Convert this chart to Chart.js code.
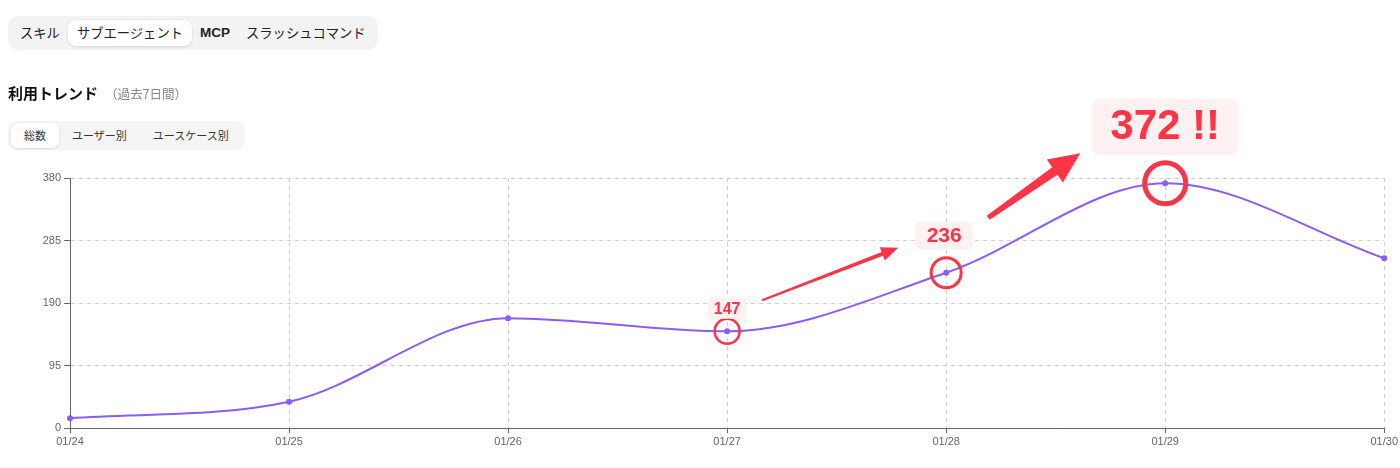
<!DOCTYPE html>
<html lang="ja">
<head>
<meta charset="utf-8">
<script src="https://cdn.jsdelivr.net/npm/chart.js@4/dist/chart.umd.min.js"></script>
<style>
  html, body { margin: 0; padding: 0; background: #fff; }
  body { width: 1400px; height: 468px; position: relative; overflow: hidden;
         font-family: "Noto Sans CJK JP", "Noto Sans", sans-serif; color: #222; }
  #wrap { position: absolute; left: 0; top: 0; width: 1400px; height: 468px; }
  .tabs { position: absolute; left: 8px; top: 16px; height: 34px; background: #f3f3f4;
          border-radius: 10px; display: flex; align-items: center; padding: 0 4px; box-sizing: border-box; z-index: 2; }
  .tab { height: 26px; line-height: 26px; padding: 0 8px; font-size: 13.3px; color: #222; border-radius: 8px; white-space: nowrap; }
  .tab.active { background: #fff; box-shadow: 0 1px 3px rgba(0,0,0,0.12); padding: 0 9px; }
  .tab.en { font-family: "Liberation Sans", Arial, sans-serif; font-weight: 600; font-size: 13.5px; }
  .title { position: absolute; left: 8px; top: 82px; font-size: 15px; font-weight: 700; color: #111; z-index: 2; white-space: nowrap; }
  .title span { font-size: 12.5px; font-weight: 400; color: #888; margin-left: 7px; }
  .subtabs { position: absolute; left: 8px; top: 121px; height: 29px; background: #f5f5f6;
             border-radius: 9px; display: flex; align-items: center; padding: 0 3px; box-sizing: border-box; z-index: 2; }
  .subtab { height: 25px; line-height: 25px; padding: 0 13px; font-size: 11px; color: #333; border-radius: 7px; white-space: nowrap; }
  .subtab.active { background: #fff; box-shadow: 0 1px 3px rgba(0,0,0,0.12); }
  canvas { position: absolute; left: 0; top: 0; z-index: 1; }
</style>
</head>
<body>
<div class="tabs">
  <div class="tab">スキル</div>
  <div class="tab active">サブエージェント</div>
  <div class="tab en">MCP</div>
  <div class="tab">スラッシュコマンド</div>
</div>
<div class="title">利用トレンド<span>（過去7日間）</span></div>
<div class="subtabs">
  <div class="subtab active">総数</div>
  <div class="subtab">ユーザー別</div>
  <div class="subtab">ユースケース別</div>
</div>
<div id="wrap"><canvas id="c" width="1400" height="468"></canvas></div>
<script>
const categories = ['01/24', '01/25', '01/26', '01/27', '01/28', '01/29', '01/30'];
const usageValues = [15, 40, 167, 147, 236, 372, 258];
const yTickValues = [0, 95, 190, 285, 380];
const highlightIndexes = [3, 4, 5];
const highlightTexts = ['147', '236', '372 !!'];

const RED = '#fc3446';
const PURPLE = '#8b5cf6';

function roundRect(ctx, x, y, w, h, r) {
  ctx.beginPath();
  ctx.moveTo(x + r, y);
  ctx.lineTo(x + w - r, y);
  ctx.quadraticCurveTo(x + w, y, x + w, y + r);
  ctx.lineTo(x + w, y + h - r);
  ctx.quadraticCurveTo(x + w, y + h, x + w - r, y + h);
  ctx.lineTo(x + r, y + h);
  ctx.quadraticCurveTo(x, y + h, x, y + h - r);
  ctx.lineTo(x, y + r);
  ctx.quadraticCurveTo(x, y, x + r, y);
  ctx.closePath();
}

function arrow(ctx, x1, y1, x2, y2, w1, w2, headLen, headW) {
  const dx = x2 - x1, dy = y2 - y1;
  const len = Math.hypot(dx, dy);
  const ux = dx / len, uy = dy / len;
  const nx = -uy, ny = ux;
  const bx = x2 - ux * headLen, by = y2 - uy * headLen;
  ctx.beginPath();
  ctx.moveTo(x1 + nx * w1 / 2, y1 + ny * w1 / 2);
  ctx.lineTo(bx + nx * w2 / 2, by + ny * w2 / 2);
  ctx.lineTo(bx + nx * headW / 2, by + ny * headW / 2);
  ctx.lineTo(x2, y2);
  ctx.lineTo(bx - nx * headW / 2, by - ny * headW / 2);
  ctx.lineTo(bx - nx * w2 / 2, by - ny * w2 / 2);
  ctx.lineTo(x1 - nx * w1 / 2, y1 - ny * w1 / 2);
  ctx.closePath();
  ctx.fill();
}

const annotatePlugin = {
  id: 'annotate',
  afterDatasetsDraw(chart) {
    const ctx = chart.ctx;
    const meta = chart.getDatasetMeta(0);
    const pts = highlightIndexes.map(i => meta.data[i]);
    const styles = [
      { r: 12.5, lw: 2.5, font: 16, bw: 37, bh: 21, dx: 0, dy: -23 },
      { r: 15, lw: 3, font: 21, bw: 56, bh: 26, dx: -2, dy: -38 },
      { r: 20.5, lw: 5, font: 42, bw: 145, bh: 54, dx: 0, dy: -57 }
    ];
    ctx.save();
    pts.forEach((p, k) => {
      const s = styles[k];
      ctx.strokeStyle = RED;
      ctx.lineWidth = s.lw;
      ctx.beginPath();
      ctx.arc(p.x, p.y, s.r, 0, Math.PI * 2);
      ctx.stroke();
      const cx = p.x + s.dx, cy = p.y + s.dy;
      ctx.save();
      ctx.shadowColor = 'rgba(0,0,0,0.08)';
      ctx.shadowBlur = 3;
      ctx.shadowOffsetY = 1;
      ctx.fillStyle = '#fff0f1';
      roundRect(ctx, cx - s.bw / 2, cy - s.bh / 2, s.bw, s.bh, k === 2 ? 7 : 4);
      ctx.fill();
      ctx.restore();
      ctx.fillStyle = RED;
      ctx.font = `bold ${s.font}px "Liberation Sans", Arial, sans-serif`;
      ctx.textAlign = 'center';
      ctx.textBaseline = 'middle';
      ctx.fillText(highlightTexts[k], cx, cy + 1);
    });
    ctx.fillStyle = RED;
    const a = pts[0], b = pts[1], c = pts[2];
    arrow(ctx, a.x + 35, a.y - 31, b.x - 48, b.y - 25, 2, 4, 17, 14);
    arrow(ctx, b.x + 42, b.y - 55, c.x - 85, c.y - 30, 5, 9, 31, 28);
    ctx.restore();
  }
};

new Chart(document.getElementById('c'), {
  type: 'line',
  data: {
    labels: categories,
    datasets: [{
      data: usageValues,
      borderColor: PURPLE,
      backgroundColor: PURPLE,
      borderWidth: 2,
      pointRadius: 3,
      pointBorderWidth: 0,
      pointBackgroundColor: PURPLE,
      cubicInterpolationMode: 'monotone',
      tension: 0.4,
      fill: false
    }]
  },
  options: {
    responsive: false,
    animation: false,
    layout: { padding: { left: 0, right: 15, top: 178, bottom: 0 } },
    plugins: { legend: { display: false }, tooltip: { enabled: false } },
    scales: {
      x: {
        offset: false,
        grid: { color: '#d0d0d0', tickColor: '#666', tickLength: 5, tickBorderDash: [] },
        border: { color: '#666', width: 1, dash: [4, 4] },
        ticks: { color: '#666', font: { size: 11, family: '"Liberation Sans", Arial, sans-serif' }, padding: 2, maxRotation: 0, autoSkip: false },
        afterFit(scale) { scale.height = 40; }
      },
      y: {
        min: 0, max: 380,
        grid: { color: '#d0d0d0', tickColor: '#666', tickLength: 6, tickBorderDash: [] },
        border: { color: '#666', width: 1, dash: [4, 4] },
        ticks: { color: '#666', font: { size: 11, family: '"Liberation Sans", Arial, sans-serif' }, padding: 3 },
        afterBuildTicks(scale) { scale.ticks = yTickValues.map(v => ({ value: v })); },
        afterFit(scale) { scale.width = 70; }
      }
    }
  },
  plugins: [annotatePlugin]
});
</script>
</body>
</html>
